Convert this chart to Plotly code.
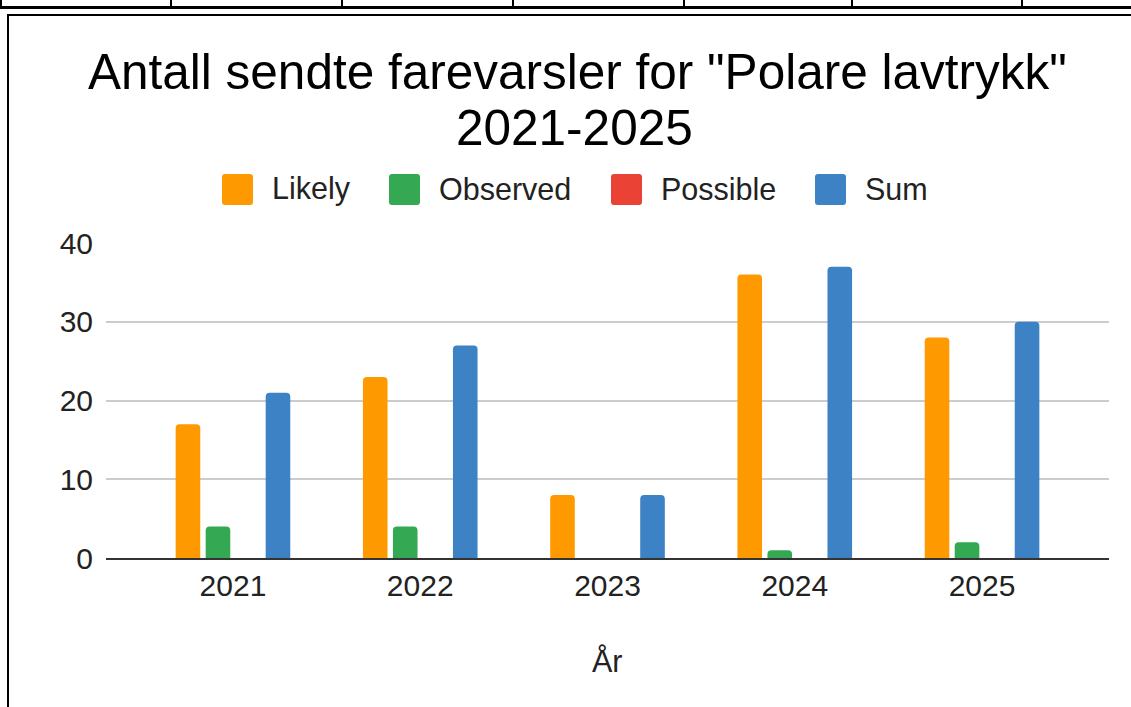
import plotly.graph_objects as go

# ---- data ----
years = ["2021", "2022", "2023", "2024", "2025"]
likely = [17, 23, 8, 36, 28]
observed = [4, 4, 0, 1, 2]
possible = [0, 0, 0, 0, 0]
total = [21, 27, 8, 37, 30]
series_names = ["Likely", "Observed", "Possible", "Sum"]
series_colors = ["#ff9900", "#34a853", "#ea4335", "#3d82c4"]
y_ticks = [0, 10, 20, 30, 40]

title_line1 = 'Antall sendte farevarsler for "Polare lavtrykk"'
title_line2 = "2021-2025"
x_title = "År"

FONT = "Liberation Sans, Arial, sans-serif"
W, H = 1131, 707
L, R, T, B = 106, 1109, 243, 558


def px(x):
    return (x - L) / (R - L)


def py(y):
    return (B - y) / (B - T)


fig = go.Figure()
for name, vals, col in zip(series_names, [likely, observed, possible, total], series_colors):
    fig.add_trace(go.Bar(x=years, y=vals, name=name, marker=dict(color=col, line=dict(width=0)),
                         showlegend=False, hoverinfo="x+y+name"))

shapes = []
annotations = []

# spreadsheet grid above the chart
shapes.append(dict(type="line", xref="paper", yref="paper", x0=px(0), x1=px(W), y0=py(7.5), y1=py(7.5),
                   line=dict(color="#000000", width=3)))
for gx in [1, 171, 342, 513, 684, 852, 1022]:
    shapes.append(dict(type="line", xref="paper", yref="paper", x0=px(gx), x1=px(gx), y0=py(0), y1=py(8),
                       line=dict(color="#000000", width=2)))
# chart box border
shapes.append(dict(type="rect", xref="paper", yref="paper", x0=px(8), x1=px(1145), y0=py(15), y1=py(720),
                   line=dict(color="#000000", width=2), fillcolor="rgba(0,0,0,0)"))


def rounded_rect(x0, y0, x1, y1, r):
    # pixel coordinates -> paper path with rounded corners
    X0, X1 = px(x0), px(x1)
    Y0, Y1 = py(y0), py(y1)
    rx = r / (R - L)
    ry = r / (B - T)
    return (f"M{X0+rx},{Y0} L{X1-rx},{Y0} Q{X1},{Y0} {X1},{Y0-ry} "
            f"L{X1},{Y1+ry} Q{X1},{Y1} {X1-rx},{Y1} L{X0+rx},{Y1} Q{X0},{Y1} {X0},{Y1+ry} "
            f"L{X0},{Y0-ry} Q{X0},{Y0} {X0+rx},{Y0} Z")


# custom legend
legend_swatch_x = [222, 389, 611, 815]
legend_text_x = [270, 437, 659, 863]
for name, col, sx, tx in zip(series_names, series_colors, legend_swatch_x, legend_text_x):
    shapes.append(dict(type="path", xref="paper", yref="paper", path=rounded_rect(sx, 174, sx + 31, 205, 3),
                       fillcolor=col, line=dict(width=0)))
    annotations.append(dict(text=name, xref="paper", yref="paper", x=px(tx), y=py(188.5), xanchor="left",
                            yanchor="middle", showarrow=False, font=dict(family=FONT, size=30.5, color="#222222")))

# title (two lines, Google-Charts-like tight line spacing)
annotations.append(dict(text=title_line1, xref="paper", yref="paper", x=px(577.5), y=py(71.5), xanchor="center",
                        yanchor="middle", showarrow=False, font=dict(family=FONT, size=49.5, color="#000000")))
annotations.append(dict(text=title_line2, xref="paper", yref="paper", x=px(574), y=py(127.5), xanchor="center",
                        yanchor="middle", showarrow=False, font=dict(family=FONT, size=49.5, color="#000000")))
# x axis title
annotations.append(dict(text=x_title, xref="paper", yref="paper", x=px(607.5), y=py(661), xanchor="center",
                        yanchor="middle", showarrow=False, font=dict(family=FONT, size=30.5, color="#222222")))

fig.update_layout(
    width=W, height=H,
    margin=dict(l=L, r=W - R, t=T, b=H - B, pad=0),
    paper_bgcolor="#ffffff", plot_bgcolor="#ffffff",
    barmode="group", bargap=0.359, bargroupgap=0.18, barcornerradius=4,
    font=dict(family=FONT, color="#222222"),
    shapes=shapes, annotations=annotations,
    showlegend=False,
)
fig.update_xaxes(type="category", range=[-0.678, 4.678], showgrid=False, showline=True, linecolor="#333333",
                 linewidth=2, ticks="", tickfont=dict(family=FONT, size=30, color="#222222"),
                 ticklabelstandoff=0, fixedrange=True)
fig.update_yaxes(range=[0, 40], tickvals=y_ticks, showgrid=True, gridcolor="#cccccc", gridwidth=1.5,
                 zeroline=False, showline=False, ticks="", tickfont=dict(family=FONT, size=30, color="#222222"),
                 ticklabelstandoff=12, fixedrange=True)

fig.write_html("out.html", config={"displayModeBar": False},
               post_script="document.body.style.margin='0';document.body.style.overflow='hidden';")
